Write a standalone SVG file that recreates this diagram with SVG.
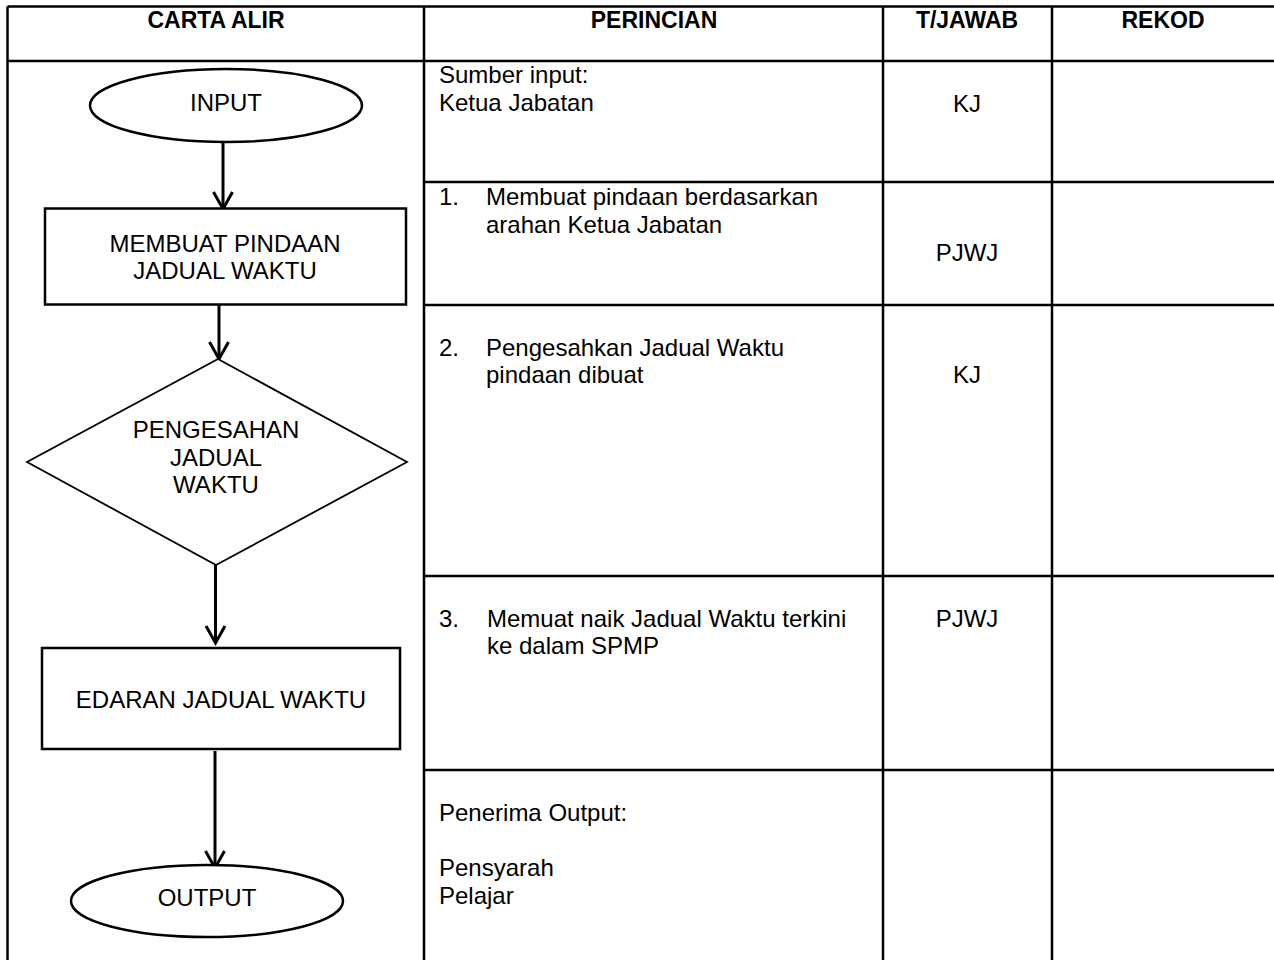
<svg xmlns="http://www.w3.org/2000/svg" width="1274" height="960" viewBox="0 0 1274 960">
<style>
  .grid { stroke: #000; stroke-width: 2.5; fill: none; }
  .hdr { font-family: "Liberation Sans", Arial, sans-serif; font-size: 23px; font-weight: bold; fill: #000; text-anchor: middle; }
  .t { font-family: "Liberation Sans", Arial, sans-serif; font-size: 24px; fill: #000; }
  .c { text-anchor: middle; }
  .shape { stroke: #000; stroke-width: 2.5; fill: #fff; }
  .dia { stroke: #000; stroke-width: 1.8; fill: #fff; }
  .conn { stroke: #000; stroke-width: 3; fill: none; }
</style>
<defs>
  <marker id="vhead" markerUnits="userSpaceOnUse" markerWidth="30" markerHeight="30" viewBox="-20 -15 24 30" refX="0" refY="0" orient="auto" overflow="visible">
    <path d="M-17,-9.5 L0,0 L-17,9.5" fill="none" stroke="#000" stroke-width="3" stroke-linejoin="miter"/>
  </marker>
</defs>
<rect x="0" y="0" width="1274" height="960" fill="#fff"/>

<g id="table">
  <line class="grid" x1="7.5" y1="6.5" x2="1274" y2="6.5"/>
  <line class="grid" x1="7.5" y1="61" x2="1274" y2="61"/>
  <line class="grid" x1="7.5" y1="6.5" x2="7.5" y2="960"/>
  <line class="grid" x1="424" y1="6.5" x2="424" y2="960"/>
  <line class="grid" x1="883" y1="6.5" x2="883" y2="960"/>
  <line class="grid" x1="1052" y1="6.5" x2="1052" y2="960"/>
  <line class="grid" x1="424" y1="182" x2="1274" y2="182"/>
  <line class="grid" x1="424" y1="305" x2="1274" y2="305"/>
  <line class="grid" x1="424" y1="576" x2="1274" y2="576"/>
  <line class="grid" x1="424" y1="770" x2="1274" y2="770"/>
</g>

<g id="headers">
  <text class="hdr" x="216" y="28">CARTA ALIR</text>
  <text class="hdr" x="654" y="28">PERINCIAN</text>
  <text class="hdr" x="967" y="28">T/JAWAB</text>
  <text class="hdr" x="1163" y="28">REKOD</text>
</g>

<g id="perincian">
  <text class="t" x="439" y="83">Sumber input:</text>
  <text class="t" x="439" y="111">Ketua Jabatan</text>
  <text class="t" x="439" y="205">1.</text>
  <text class="t" x="486" y="205">Membuat pindaan berdasarkan</text>
  <text class="t" x="486" y="233">arahan Ketua Jabatan</text>
  <text class="t" x="439" y="356">2.</text>
  <text class="t" x="486" y="356">Pengesahkan Jadual Waktu</text>
  <text class="t" x="486" y="383">pindaan dibuat</text>
  <text class="t" x="439" y="627">3.</text>
  <text class="t" x="487" y="627">Memuat naik Jadual Waktu terkini</text>
  <text class="t" x="487" y="654">ke dalam SPMP</text>
  <text class="t" x="439" y="821">Penerima Output:</text>
  <text class="t" x="439" y="876">Pensyarah</text>
  <text class="t" x="439" y="904">Pelajar</text>
</g>

<g id="tjawab">
  <text class="t c" x="967" y="112">KJ</text>
  <text class="t c" x="967" y="261">PJWJ</text>
  <text class="t c" x="967" y="383">KJ</text>
  <text class="t c" x="967" y="627">PJWJ</text>
</g>

<g id="connectors">
  <line class="conn" x1="223" y1="142" x2="223" y2="209" marker-end="url(#vhead)"/>
  <line class="conn" x1="219" y1="305" x2="219" y2="359" marker-end="url(#vhead)"/>
  <line class="conn" x1="215.5" y1="565" x2="215.5" y2="643" marker-end="url(#vhead)"/>
  <line class="conn" x1="215" y1="751" x2="215" y2="868" marker-end="url(#vhead)"/>
</g>

<g id="node-input">
  <ellipse class="shape" stroke-width="2" cx="226" cy="105.5" rx="136" ry="36.5"/>
  <text class="t c" x="226" y="111">INPUT</text>
</g>

<g id="node-membuat">
  <rect class="shape" x="45" y="208.5" width="361" height="96"/>
  <text class="t c" x="225" y="252">MEMBUAT PINDAAN</text>
  <text class="t c" x="225" y="279">JADUAL WAKTU</text>
</g>

<g id="node-pengesahan">
  <polygon class="dia" points="218,359 407,462 216,565 27,462"/>
  <text class="t c" x="216" y="438">PENGESAHAN</text>
  <text class="t c" x="216" y="466">JADUAL</text>
  <text class="t c" x="216" y="493">WAKTU</text>
</g>

<g id="node-edaran">
  <rect class="shape" x="42" y="648" width="358" height="101"/>
  <text class="t c" x="221" y="708">EDARAN JADUAL WAKTU</text>
</g>

<g id="node-output">
  <ellipse class="shape" stroke-width="2" cx="207" cy="901" rx="136" ry="36"/>
  <text class="t c" x="207" y="906">OUTPUT</text>
</g>
</svg>
